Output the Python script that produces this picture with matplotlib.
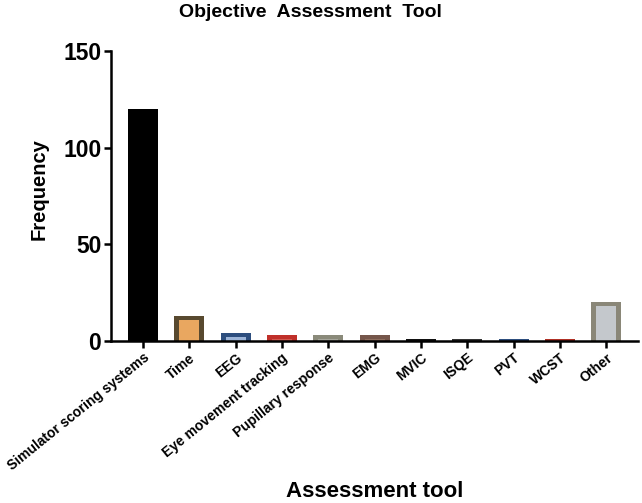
import numpy as np
import matplotlib.pyplot as plt

plt.rcParams['font.family'] = ['Liberation Sans', 'DejaVu Sans']

#data
tools = ['Simulator scoring systems', 'Time', 'EEG', 'Eye movement tracking',
         'Pupillary response', 'EMG', 'MVIC', 'ISQE', 'PVT', 'WCST', 'Other']
freq = np.array([120, 13, 4, 3, 3, 3, 1, 1, 1, 1, 20])
fills = ['#000000', '#E9A760', '#9DB5D8', '#D25A50', '#A6A69C', '#8E6E5E',
         '#333333', '#555555', '#2D4E7E', '#C0392B', '#C4C8CC']
edges = ['#000000', '#58492F', '#2D4E7E', '#C0302A', '#8A8A7A', '#75564A',
         '#111111', '#333333', '#2D4E7E', '#B03025', '#8A8778']

fig = plt.figure(figsize=(6.42, 5.03), dpi=100)
ax = fig.add_axes([0.173, 0.322, 0.821, 0.577])

x = np.arange(len(tools))
w = 0.65
# outer box in edge colour, inner box in fill colour (border drawn inside)
ax.bar(x, freq, width=w, color=edges, linewidth=0)
inset_x, inset_y = 0.11, 2.1
inner = np.clip(freq - inset_y, 0, None)
ax.bar(x, inner, width=w - 2 * inset_x, color=fills, linewidth=0)

ax.set_ylim(0, 150)
ax.set_xlim(-0.69, 10.69)
ax.set_yticks([0, 50, 100, 150])
ax.set_xticks(x)
ax.set_xticklabels(tools, rotation=39, ha='right', va='top',
                   rotation_mode='anchor', fontsize=10, fontweight='bold')
for lab in ax.get_yticklabels():
    lab.set_fontsize(16.5)
    lab.set_fontweight('bold')

ax.spines['top'].set_visible(False)
ax.spines['right'].set_visible(False)
ax.spines['left'].set_linewidth(1.8)
ax.spines['bottom'].set_linewidth(1.8)
ax.tick_params(axis='both', width=1.8, length=5, pad=2)

fig.text(0.061, 1 - 189 / 503, 'Frequency', rotation=90, ha='center',
         va='center', fontsize=14.5, fontweight='bold')
fig.text(0.483, 0.976, 'Objective  Assessment  Tool', ha='center', va='center',
         fontsize=14, fontweight='bold')
fig.text(0.583, 0.022, 'Assessment tool', ha='center', va='center',
         fontsize=16, fontweight='bold')

plt.savefig('out.png', dpi=100)
